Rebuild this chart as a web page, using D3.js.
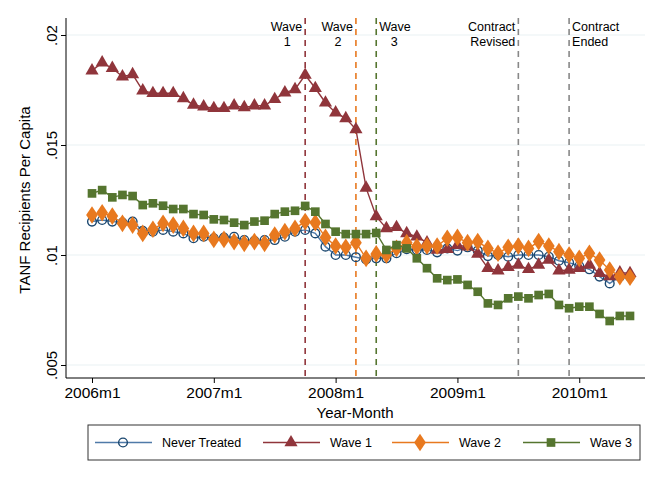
<!DOCTYPE html>
<html>
<head>
<script src="https://d3js.org/d3.v7.min.js"></script>
<style>
  body { margin: 0; background: #fff; }
  text { font-family: "Liberation Sans", Arial, sans-serif; fill: #000; }
</style>
</head>
<body>
<svg id="chart" width="666" height="478"></svg>
<script>
// months 2006m1 .. 2010m6 (index 0..53)
const months = d3.range(54);
const yearTicks = [0, 12, 24, 36, 48];
const yearLabels = ["2006m1", "2007m1", "2008m1", "2009m1", "2010m1"];
const yTicks = [0.005, 0.01, 0.015, 0.02];
const yTickLabels = [".005", ".01", ".015", ".02"];

const neverTreated = [.01152,.01159,.01152,.01147,.01152,.01110,.01106,.01114,.01106,.01098,.01076,.01083,.01076,.01079,.01083,.01068,.01064,.01068,.01068,.01083,.01106,.01114,.01098,.01038,.01000,.01000,.00990,.00980,.00985,
  .00985,.01008,.01026,.01023,.01023,.01012,.01030,.01020,.01035,.01020,.00995,.01000,.00992,.01000,.01000,.01000,.00992,.00974,.00965,.00950,.00935,.00902,.00871,.00902,.00902];
const wave1 = [.01838,.01874,.01849,.01811,.01821,.01747,.01735,.01735,.01735,.01712,.01682,.01674,.01667,.01667,.01679,.01671,.01679,.01679,.01708,.01738,.01753,.01818,.01758,.01692,.01647,.01621,.01571,.01305,.01175,
  .01121,.01126,.01098,.01083,.01056,.01023,.01026,.01045,.01038,.01005,.00940,.00929,.00944,.00955,.00935,.00955,.00977,.00929,.00932,.00940,.00955,.00917,.00902,.00920,.00917];
const wave2 = [.01182,.01192,.01177,.01144,.01136,.01098,.01117,.01144,.01136,.01121,.01098,.01098,.01071,.01071,.01061,.01053,.01061,.01053,.01091,.01106,.01121,.01152,.01147,.01080,.01041,.01035,.01056,.00985,.01005,
  .01000,.01030,.01056,.01038,.01041,.01041,.01076,.01080,.01056,.01061,.01030,.01008,.01035,.01041,.01030,.01061,.01041,.01015,.01000,.00985,.01008,.00977,.00932,.00902,.00899];
const wave3 = [.01280,.01295,.01262,.01273,.01268,.01227,.01235,.01224,.01209,.01209,.01186,.01182,.01162,.01159,.01147,.01136,.01152,.01156,.01186,.01197,.01201,.01223,.01197,.01141,.01106,.01095,.01095,.01095,.01100,
  .01023,.01045,.01030,.00985,.00940,.00894,.00886,.00889,.00864,.00833,.00780,.00773,.00803,.00811,.00803,.00818,.00823,.00773,.00758,.00765,.00765,.00732,.00700,.00723,.00723];

const seriesNames = ["Never Treated", "Wave 1", "Wave 2", "Wave 3"];
const seriesData = [neverTreated, wave1, wave2, wave3];
const seriesColors = ["#1a476f", "#90353b", "#e8791f", "#55752f"];
const seriesLines = ["#4f7aa8", "#90353b", "#e8791f", "#55752f"];
const seriesSymbols = ["circle", "triangle", "diamond", "square"];

// event lines: month index, label lines, colour, label side
const eventMonths = [21, 26, 28, 42, 47];
const eventLabels = [["Wave", "1"], ["Wave", "2"], ["Wave", "3"], ["Contract", "Revised"], ["Contract", "Ended"]];
const eventColors = ["#90353b", "#e8791f", "#55752f", "#888", "#888"];
const eventSide = ["left", "left", "right", "left", "right"];

const svg = d3.select("#chart");
svg.append("rect").attr("width", 666).attr("height", 478).attr("fill", "#fff");

const plotL = 66, plotR = 645, plotT = 18, plotB = 378;
const x = d3.scaleLinear().domain([0, 53]).range([92, 630]);
const y = d3.scaleLinear().domain([0.005, 0.02]).range([365, 35]);

// grid
svg.append("g").selectAll("line").data(yTicks).join("line")
  .attr("x1", plotL).attr("x2", plotR)
  .attr("y1", d => y(d)).attr("y2", d => y(d))
  .attr("stroke", "#eaf2f3").attr("stroke-width", 1.2);

// axes
const yAxis = d3.axisLeft(y).tickValues(yTicks).tickFormat((d, i) => yTickLabels[i]).tickSize(5).tickSizeOuter(0);
const gy = svg.append("g").attr("transform", `translate(${plotL},0)`).call(yAxis);
gy.select(".domain").attr("d", `M0,${plotT}V${plotB}`);
gy.selectAll(".tick text").attr("font-size", 15).attr("text-anchor", "middle").attr("dy", 0)
  .attr("transform", "translate(-9,0) rotate(-90)").attr("x", 0).attr("y", 0);

const xAxis = d3.axisBottom(x).tickValues(yearTicks).tickFormat((d, i) => yearLabels[i]).tickSize(5).tickSizeOuter(0);
const gx = svg.append("g").attr("transform", `translate(0,${plotB})`).call(xAxis);
gx.select(".domain").attr("d", `M${plotL},0H${plotR}`);
gx.selectAll("text").attr("font-size", 15.5).attr("dy", "0.8em");

svg.append("text").attr("x", 355).attr("y", 418).attr("text-anchor", "middle").attr("font-size", 15).text("Year-Month");
svg.append("text").attr("transform", "translate(30,200) rotate(-90)").attr("text-anchor", "middle")
  .attr("font-size", 15).text("TANF Recipients Per Capita");

// event lines
eventMonths.forEach((m, i) => {
  const xm = x(m);
  svg.append("line").attr("x1", xm).attr("x2", xm).attr("y1", plotT).attr("y2", plotB)
    .attr("stroke", eventColors[i]).attr("stroke-width", 1.6).attr("stroke-dasharray", "6,5");
  const left = eventSide[i] === "left";
  eventLabels[i].forEach((t, j) => {
    svg.append("text").attr("x", left ? xm - 3 : xm + 3).attr("y", 31 + j * 15)
      .attr("text-anchor", j === 1 && i < 3 ? "middle" : (left ? "end" : "start"))
      .attr("dx", j === 1 && i < 3 ? (left ? -15 : 15) : 0)
      .attr("font-size", 12.5).text(t);
  });
});

const symSize = { circle: 60, triangle: 75, diamond: 90, square: 75 };
const symType = { circle: d3.symbolCircle, triangle: d3.symbolTriangle, diamond: d3.symbolDiamond, square: d3.symbolSquare };
function drawSymbol(g, type, color, cx, cy, scale) {
  const p = g.append("path")
    .attr("d", d3.symbol().type(symType[type]).size(symSize[type] * (scale || 1))())
    .attr("transform", `translate(${cx},${cy})` + (type === "diamond" ? " scale(1.15,1)" : ""));
  if (type === "circle") p.attr("fill", "none").attr("stroke", color).attr("stroke-width", 1.4);
  else p.attr("fill", color);
}

// series
const line = d3.line().x((d, i) => x(months[i])).y(d => y(d));
seriesData.forEach((s, k) => {
  const g = svg.append("g");
  g.append("path").datum(s).attr("d", line).attr("fill", "none")
    .attr("stroke", seriesLines[k]).attr("stroke-width", 1.4);
  s.forEach((v, i) => drawSymbol(g, seriesSymbols[k], seriesColors[k], x(months[i]), y(v)));
});

// legend
const lg = svg.append("g");
lg.append("rect").attr("x", 88).attr("y", 425).attr("width", 552).attr("height", 35)
  .attr("fill", "#fff").attr("stroke", "#333").attr("stroke-width", 1);
const legX = [95, 263, 392, 523];
seriesNames.forEach((n, k) => {
  const lx = legX[k], ly = 442.5;
  lg.append("line").attr("x1", lx).attr("x2", lx + 57).attr("y1", ly).attr("y2", ly)
    .attr("stroke", seriesLines[k]).attr("stroke-width", 1.4);
  drawSymbol(lg, seriesSymbols[k], seriesColors[k], lx + 28, ly);
  lg.append("text").attr("x", lx + 67).attr("y", ly + 4.5).attr("font-size", 12.5).text(n);
});
</script>
</body>
</html>
